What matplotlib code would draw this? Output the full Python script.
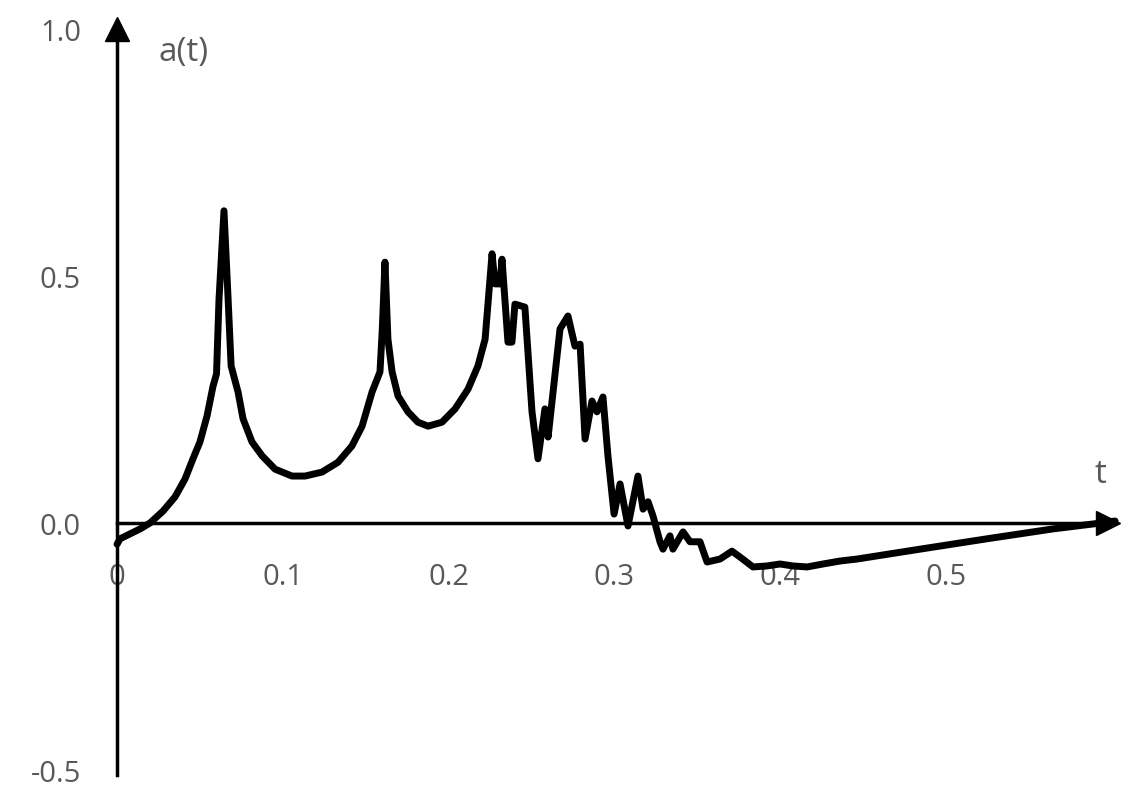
import numpy as np
import matplotlib
matplotlib.use("Agg")
from matplotlib import pyplot as plt

# Curve values
t = [0.000, 0.0018, 0.0139, 0.0199, 0.0277, 0.035, 0.041, 0.0458, 0.050, 0.0543,
     0.0579, 0.060, 0.0615, 0.0645, 0.067, 0.0688, 0.073, 0.076, 0.0814, 0.0875,
     0.0953, 0.1055, 0.1134, 0.1236, 0.1333, 0.1417, 0.1478, 0.1538, 0.1586, 0.1600,
     0.1616, 0.1634, 0.1659, 0.1695, 0.1755, 0.1815, 0.1876, 0.196, 0.2039, 0.2117,
     0.2177, 0.222, 0.2262, 0.228, 0.231, 0.2322, 0.2358, 0.2382, 0.240, 0.246,
     0.2503, 0.2539, 0.2581, 0.260, 0.2672, 0.272, 0.2762, 0.2793, 0.2823, 0.2865,
     0.2895, 0.2931, 0.2961, 0.2998, 0.3034, 0.3082, 0.3142, 0.3173, 0.3203, 0.3233,
     0.3275, 0.3293, 0.3335, 0.3353, 0.3414, 0.3456, 0.3516, 0.3559, 0.3637, 0.3709,
     0.3758, 0.3836, 0.392, 0.3999, 0.4077, 0.4162, 0.4258, 0.4361, 0.4463, 0.4843,
     0.5247, 0.5645, 0.5887, 0.602]
a = [-0.043, -0.032, -0.012, 0.000, 0.024, 0.053, 0.089, 0.130, 0.164, 0.217,
     0.277, 0.302, 0.453, 0.632, 0.453, 0.318, 0.265, 0.211, 0.164, 0.136,
     0.109, 0.095, 0.095, 0.103, 0.123, 0.156, 0.196, 0.265, 0.306, 0.393,
     0.528, 0.372, 0.306, 0.257, 0.225, 0.204, 0.196, 0.204, 0.231, 0.271,
     0.318, 0.372, 0.545, 0.484, 0.484, 0.534, 0.366, 0.366, 0.443, 0.437,
     0.225, 0.130, 0.231, 0.174, 0.393, 0.419, 0.358, 0.362, 0.170, 0.247,
     0.225, 0.255, 0.136, 0.018, 0.079, -0.006, 0.095, 0.028, 0.043, 0.014,
     -0.038, -0.053, -0.026, -0.053, -0.018, -0.038, -0.038, -0.079, -0.073, -0.057,
     -0.069, -0.089, -0.087, -0.083, -0.087, -0.089, -0.083, -0.077, -0.073, -0.053,
     -0.032, -0.012, -0.002, 0.004]

x_ticks = [0, 0.1, 0.2, 0.3, 0.4, 0.5]
x_tick_labels = ["0", "0.1", "0.2", "0.3", "0.4", "0.5"]
y_ticks = [-0.5, 0.0, 0.5, 1.0]
y_tick_labels = ["-0.5", "0.0", "0.5", "1.0"]

grey = "#595959"
plt.rcParams['font.family'] = ['Open Sans', 'DejaVu Sans']

fig = plt.figure(figsize=(11.31, 8.03), dpi=100)
ax = fig.add_axes([0, 0, 1, 1])
ax.set_xlim(-0.0706, 0.6116)
ax.set_ylim(-0.5648, 1.0607)

# Axes through the origin
for side in ["top", "right"]:
    ax.spines[side].set_visible(False)
ax.spines["left"].set_position(("data", 0))
ax.spines["bottom"].set_position(("data", 0))
ax.spines["left"].set_bounds(-0.51, 0.99)
ax.spines["bottom"].set_bounds(0, 0.595)
for side in ["left", "bottom"]:
    ax.spines[side].set_linewidth(2.5)
    ax.spines[side].set_color("black")

ax.set_xticks(x_ticks)
ax.set_xticklabels(x_tick_labels)
ax.set_yticks(y_ticks)
ax.set_yticklabels(y_tick_labels)
ax.tick_params(axis="both", length=0, labelsize=21, labelcolor=grey)
ax.tick_params(axis="x", pad=28)
ax.tick_params(axis="y", pad=26)

# Arrow heads
ax.plot(0, 1.0, marker="^", markersize=17, color="black", clip_on=False)
ax.plot(0.598, 0, marker=">", markersize=17, color="black", clip_on=False)

ax.plot(t, a, color="black", linewidth=5, solid_joinstyle="round", solid_capstyle="round")

ax.text(0.025, 0.955, "a(t)", fontsize=24, color=grey, va="center", ha="left")
ax.text(0.593, 0.10, "t", fontsize=24, color=grey, va="center", ha="center")

fig.savefig("out.png", dpi=100)
